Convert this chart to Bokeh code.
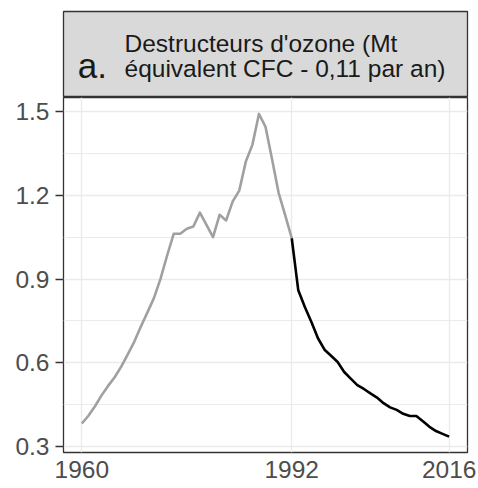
from bokeh.plotting import figure
from bokeh.layouts import column
from bokeh.models import Range1d, FixedTicker, Label
from bokeh.embed import file_html
from bokeh.resources import INLINE

# ---- data ----
years_before = list(range(1960, 1993))
values_before = [0.382, 0.41, 0.444, 0.483, 0.517, 0.548, 0.586, 0.630, 0.676, 0.730,
                 0.781, 0.833, 0.902, 0.985, 1.063, 1.063, 1.081, 1.089, 1.139, 1.095,
                 1.051, 1.131, 1.111, 1.179, 1.218, 1.322, 1.382, 1.493, 1.447, 1.33,
                 1.21, 1.13, 1.047]
years_after = list(range(1992, 2017))
values_after = [1.047, 0.86, 0.800, 0.746, 0.688, 0.647, 0.625, 0.603, 0.567, 0.543,
                0.520, 0.506, 0.490, 0.475, 0.455, 0.440, 0.431, 0.417, 0.409, 0.409,
                0.39, 0.37, 0.355, 0.345, 0.335]
xticks = [1960, 1992, 2016]
xtick_labels = ["1960", "1992", "2016"]
yticks = [0.3, 0.6, 0.9, 1.2, 1.5]
ytick_labels = ["0.3", "0.6", "0.9", "1.2", "1.5"]
panel_letter = "a."
title_lines = ["Destructeurs d'ozone (Mt", "équivalent CFC - 0,11 par an)"]

FONT = "Liberation Sans"
GRID = "#ebebeb"
BORDER = "#333333"
TICKTXT = "#4d4d4d"

# ---- strip header ----
strip = figure(width=478, height=97, x_range=Range1d(0, 1), y_range=Range1d(0, 1),
               x_axis_type=None, y_axis_type=None, output_backend="svg",
               toolbar_location=None, min_border_left=63, min_border_right=11,
               min_border_top=11, min_border_bottom=0)
strip.grid.visible = False
strip.background_fill_color = "#d9d9d9"
strip.outline_line_color = BORDER
strip.outline_line_width = 1.3
strip.add_layout(Label(x=0.0354, y=0.369, text=panel_letter, text_font_size="35px",
                       text_font=FONT, text_baseline="alphabetic", text_color="#1a1a1a"))
strip.add_layout(Label(x=0.151, y=0.624, text=title_lines[0], text_font_size="24.5px",
                       text_font=FONT, text_baseline="alphabetic", text_color="#1a1a1a"))
strip.add_layout(Label(x=0.151, y=0.334, text=title_lines[1], text_font_size="24.5px",
                       text_font=FONT, text_baseline="alphabetic", text_color="#1a1a1a"))

# ---- main panel ----
p = figure(width=478, height=391, x_range=Range1d(1957.2, 2018.8),
           y_range=Range1d(0.278, 1.552),
           output_backend="svg", toolbar_location=None,
           min_border_left=63, min_border_right=11, min_border_top=0, min_border_bottom=36)
p.outline_line_color = BORDER
p.outline_line_width = 1.3
p.background_fill_color = "white"

p.xaxis.ticker = FixedTicker(ticks=xticks, minor_ticks=[])
p.xaxis.major_label_overrides = {t: l for t, l in zip(xticks, xtick_labels)}
p.xaxis.axis_line_color = None
p.xaxis.major_tick_out = 0
p.xaxis.major_tick_in = 0
p.xaxis.minor_tick_out = 0
p.xaxis.minor_tick_in = 0
p.xaxis.major_label_text_font_size = "24.5px"
p.xaxis.major_label_text_font = FONT
p.xaxis.major_label_text_color = TICKTXT
p.xaxis.major_label_standoff = 8
p.xgrid.grid_line_color = GRID
p.xgrid.grid_line_width = 1.4

yminor = [(a + b) / 2 for a, b in zip(yticks[:-1], yticks[1:])]
p.yaxis.ticker = FixedTicker(ticks=yticks, minor_ticks=yminor)
p.yaxis.major_label_overrides = {t: l for t, l in zip(yticks, ytick_labels)}
p.yaxis.axis_line_color = None
p.yaxis.major_tick_out = 8
p.yaxis.major_tick_in = 0
p.yaxis.minor_tick_out = 0
p.yaxis.minor_tick_in = 0
p.yaxis.major_tick_line_color = BORDER
p.yaxis.major_tick_line_width = 1.3
p.yaxis.major_label_text_font_size = "24.5px"
p.yaxis.major_label_text_font = FONT
p.yaxis.major_label_text_color = TICKTXT
p.yaxis.major_label_standoff = 6
p.ygrid.grid_line_color = GRID
p.ygrid.grid_line_width = 1.4
p.ygrid.minor_grid_line_color = GRID
p.ygrid.minor_grid_line_width = 1.2

p.line(years_before, values_before, line_color="#a0a0a0", line_width=2.6,
       line_join="round")
p.line(years_after, values_after, line_color="#000000", line_width=2.6,
       line_join="round")

layout = column(strip, p, spacing=0)
open("out.html", "w").write(file_html(layout, INLINE))
